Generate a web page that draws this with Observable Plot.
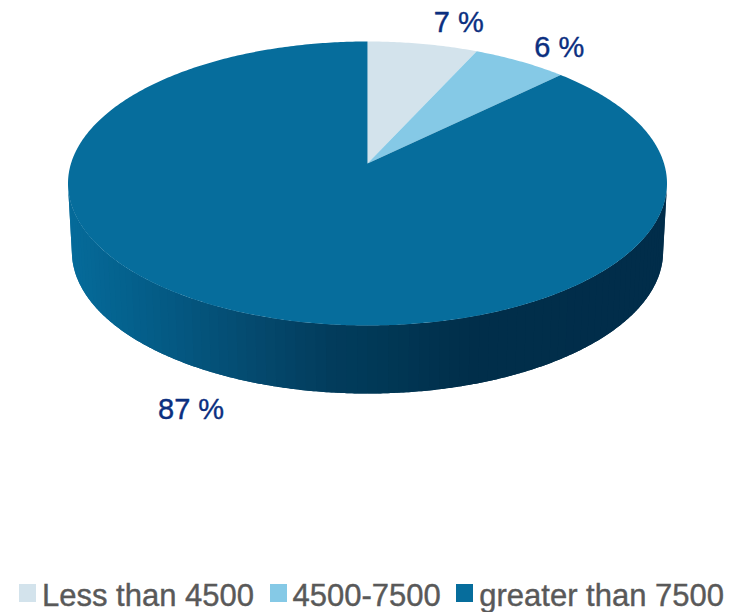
<!DOCTYPE html>
<html>
<head>
<meta charset="utf-8">
<script src="https://cdn.jsdelivr.net/npm/d3@7"></script>
<script src="https://cdn.jsdelivr.net/npm/@observablehq/plot@0.6"></script>
<style>
  html, body { margin: 0; padding: 0; background: #fff; overflow: hidden; }
  #chart svg { display: block; }
  #legend {
    display: flex; align-items: center; height: 42px; padding-left: 19px;
    font: 31px "Liberation Sans", Arial, sans-serif; color: #595959; white-space: nowrap;
    -webkit-text-stroke: 0.4px #595959;
  }
  #legend .item { display: flex; align-items: center; margin-right: 15.5px; }
  #legend .item span { position: relative; top: 5px; }
  #legend .swatch { width: 17px; height: 18px; margin-right: 6px; position: relative; top: 2px; }
</style>
</head>
<body>
<div id="chart"></div>
<div id="legend"></div>
<script>
// Share of each income band, clockwise from twelve o'clock
const categories = ["Less than 4500", "4500-7500", "greater than 7500"];
const shares = [7, 6, 87];
const shareLabels = ["7 %", "6 %", "87 %"];
const sliceColors = ["#d3e3ec", "#85c9e6", "#066d9c"];

// Label anchors, in units of the disc radius
const labelX = [0.305, 0.64, -0.589];
const labelY = [1.134, 0.958, -1.59];

// Disc tilt: wall depth, lower rim width, hub offset, and foreshortening of the angles
const wallDepth = 0.479;
const lowerRim = 0.987;
const hubY = 0.14;
const tilt = 0.845;

// Wall shading runs left to right across the front of the disc
const wallShade = d3.scaleLinear()
  .domain([-1, -0.73, -0.39, -0.12, 0, 0.34, 1])
  .range(["#056b9a", "#045d88", "#044a6f", "#023c5c", "#013a58", "#012e4a", "#012d4a"]);

// Seen from the tilted viewpoint, a share of the circle becomes this rim parameter
const rimAngle = pct => {
  const half = (pct / 100) * Math.PI;
  if (pct >= 100) return 2 * Math.PI;
  const t = 2 * Math.atan(tilt * Math.tan(half));
  return t < 0 ? t + 2 * Math.PI : t;
};

const cumulative = d3.cumsum(shares);

const sliceRows = categories.flatMap((name, i) => {
  const a0 = rimAngle(i ? cumulative[i - 1] : 0);
  const a1 = rimAngle(cumulative[i]);
  const steps = Math.max(4, Math.ceil((a1 - a0) / 0.01));
  const rim = d3.range(steps + 1).map(k => {
    const t = a0 + (a1 - a0) * k / steps;
    return {name, fill: sliceColors[i], x: Math.sin(t), y: Math.cos(t)};
  });
  return [{name, fill: sliceColors[i], x: 0, y: hubY}, ...rim];
});

// The front wall, built from narrow vertical facets; each one runs under the
// next so no seams show between them
const facetStep = Math.PI / 90;
const wallEnd = 3 * Math.PI / 2;
const wallRows = d3.range(Math.PI / 2, wallEnd - 1e-6, facetStep).flatMap((t, band) => {
  const t1 = Math.min(t + facetStep * 2, wallEnd);
  const shade = wallShade(Math.sin(t + facetStep / 2));
  return d3.range(9).map(k => t + (t1 - t) * k / 8).flatMap(a => [
    {band, shade, side: 0, a, x: Math.sin(a), y: Math.cos(a)},
    {band, shade, side: 1, a, x: lowerRim * Math.sin(a), y: Math.cos(a) - wallDepth}
  ]).sort((p, q) => p.side - q.side || (p.side ? q.a - p.a : p.a - q.a));
});

const chart = Plot.plot({
  width: 735,
  height: 570,
  margin: 0,
  x: {domain: [-1, 1], range: [67.5, 666.5], axis: null},
  y: {domain: [-1, 1], range: [325, 41], axis: null},
  marks: [
    Plot.line(wallRows, {x: "x", y: "y", z: "band", fill: "shade", stroke: "none", curve: "linear-closed"}),
    Plot.line(sliceRows, {x: "x", y: "y", z: "name", fill: "fill", curve: "linear-closed"}),
    Plot.text(shareLabels, {
      x: (d, i) => labelX[i],
      y: (d, i) => labelY[i],
      text: d => d,
      fontSize: 29,
      fontFamily: "Liberation Sans, Arial, sans-serif",
      fill: "#0b2f80",
      stroke: "#0b2f80",
      strokeWidth: 0.4
    })
  ]
});
document.getElementById("chart").append(chart);

const legend = d3.select("#legend");
categories.forEach((name, i) => {
  const item = legend.append("div").attr("class", "item");
  item.append("div").attr("class", "swatch").style("background", sliceColors[i]);
  item.append("span").text(name);
});
</script>
</body>
</html>
